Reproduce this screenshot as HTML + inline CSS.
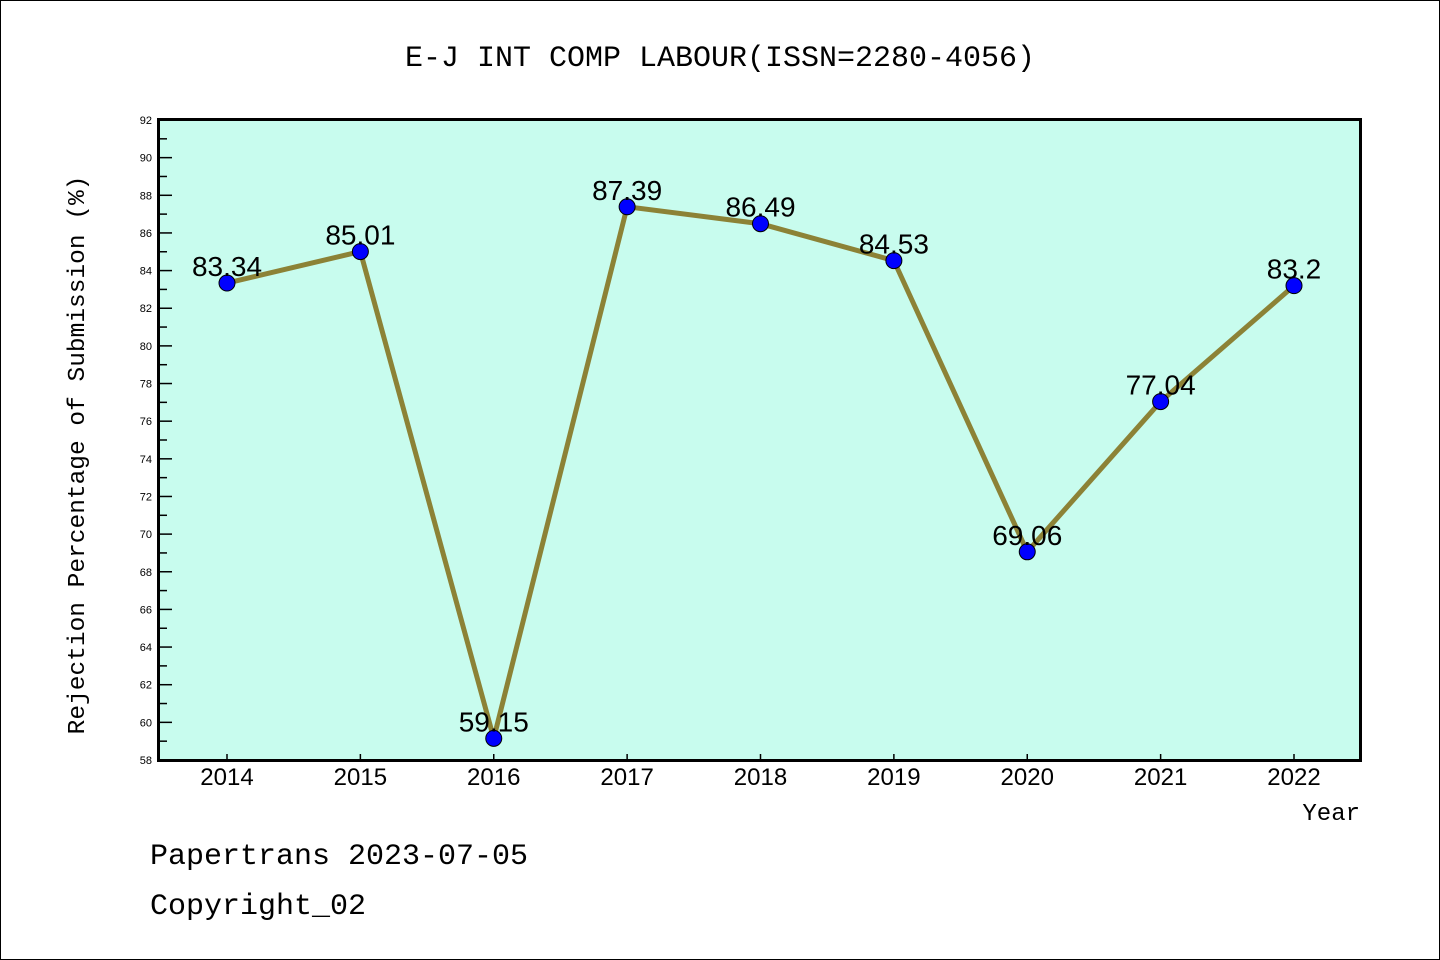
<!DOCTYPE html>
<html><head><meta charset="utf-8"><style>
html,body{margin:0;padding:0;background:#fff}
svg{display:block}
</style></head><body>
<svg id="chart" width="1440" height="960" xmlns="http://www.w3.org/2000/svg">
<rect x="0.5" y="0.5" width="1439" height="959" fill="#fff" stroke="#000"/>
<text x="720" y="66" text-anchor="middle" font-family="Liberation Mono, monospace" font-size="30">E-J INT COMP LABOUR(ISSN=2280-4056)</text>
<rect x="158.5" y="119.5" width="1202" height="641" fill="#c8fcee"/>
<g id="axes"></g>
<g id="series"></g>
<rect x="158.5" y="119.5" width="1202" height="641" fill="none" stroke="#000" stroke-width="3"/>
<text x="84" y="455" transform="rotate(-90 84 455)" text-anchor="middle" font-family="Liberation Mono, monospace" font-size="24.5">Rejection Percentage of Submission (%)</text>
<text x="1360" y="820" text-anchor="end" font-family="Liberation Mono, monospace" font-size="24">Year</text>
<text x="150" y="864" font-family="Liberation Mono, monospace" font-size="30">Papertrans 2023-07-05</text>
<text x="150" y="914" font-family="Liberation Mono, monospace" font-size="30">Copyright_02</text>
</svg>
<script>
const years = [2014,2015,2016,2017,2018,2019,2020,2021,2022];
const values = [83.34,85.01,59.15,87.39,86.49,84.53,69.06,77.04,83.2];
const valueLabels = ["83.34","85.01","59.15","87.39","86.49","84.53","69.06","77.04","83.2"];
const yTicks = [58,60,62,64,66,68,70,72,74,76,78,80,82,84,86,88,90,92];
const NS="http://www.w3.org/2000/svg";
function xScale(i){return 227+i*(1294-227)/(years.length-1);}
function yScale(v){return 760-(v-58)*(760-120)/(92-58);}
function mk(tag,attrs,parent){const e=document.createElementNS(NS,tag);for(const k in attrs)e.setAttribute(k,attrs[k]);parent.appendChild(e);return e;}
const axes=document.getElementById('axes'), series=document.getElementById('series');
yTicks.forEach(v=>{
  const y=yScale(v);
  const t=mk('line',{x1:158,x2:172,y1:y,y2:y,stroke:'#000','stroke-width':1.5},axes);
  
  
  if(v<92){const m=mk('line',{x1:158,x2:167,y1:yScale(v+1),y2:yScale(v+1),stroke:'#000','stroke-width':1.5},axes);
  
  }
  const l=mk('text',{x:152,y:y+4,'text-anchor':'end','font-family':'Liberation Sans, sans-serif','font-size':11},axes);
  l.textContent=v;
  
  
});
years.forEach((yr,i)=>{
  const x=xScale(i);
  const t=mk('line',{x1:x,x2:x,y1:760,y2:754,stroke:'#000','stroke-width':1.5},axes);
  
  
  const l=mk('text',{x:x,y:785,'text-anchor':'middle','font-family':'Liberation Sans, sans-serif','font-size':24},axes);
  l.textContent=yr;
  
  
});
const pts=values.map((v,i)=>xScale(i)+','+yScale(v)).join(' ');
const line=mk('polyline',{points:pts,fill:'none',stroke:'#8c8236','stroke-width':5,'stroke-linejoin':'round'},series);


values.forEach((v,i)=>{
  const c=mk('circle',{cx:xScale(i),cy:yScale(v),r:8,fill:'#0000ff',stroke:'#000','stroke-width':1},series);
  
  
  const l=mk('text',{x:xScale(i),y:yScale(v)-7,'text-anchor':'middle','font-family':'Liberation Sans, sans-serif','font-size':28},series);
  l.textContent=valueLabels[i];
  
  
});
</script>
</body></html>
